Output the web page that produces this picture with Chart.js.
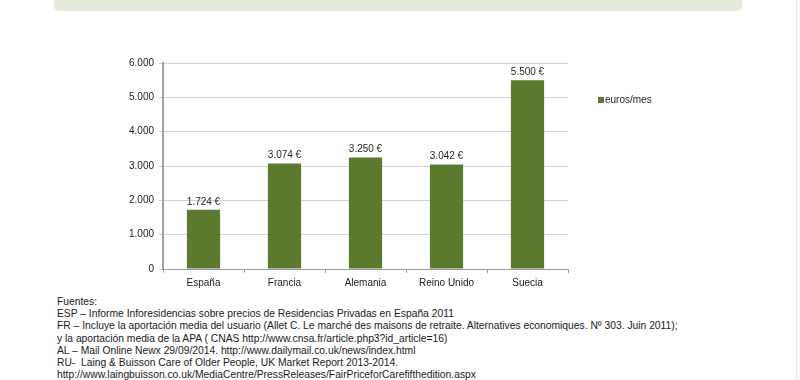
<!DOCTYPE html>
<html>
<head>
<meta charset="utf-8">
<script src="https://cdn.jsdelivr.net/npm/chart.js@4/dist/chart.umd.min.js"></script>
<style>
  html, body { margin: 0; padding: 0; background: #fff; width: 800px; height: 380px; overflow: hidden; }
  body { position: relative; font-family: "Liberation Sans", Arial, Helvetica, sans-serif; }
  #banner { position: absolute; left: 54px; top: -8px; width: 688px; height: 19px; background: #e4eadb; border-radius: 5px; }
  #pageEdge { position: absolute; left: 796px; top: 0; width: 1px; height: 380px; background: #e6e6e6; }
  #wrap { position: absolute; left: 0; top: 0; width: 800px; height: 295px; }
  #footer { position: absolute; left: 57px; top: 296px; font-size: 10.3px; line-height: 12.2px; color: #1a1a1a; white-space: nowrap; }
</style>
</head>
<body>
<div id="banner"></div>
<div id="pageEdge"></div>
<div id="wrap"><canvas id="c"></canvas></div>
<div id="footer"></div>
<script>
const categories = ["España", "Francia", "Alemania", "Reino Unido", "Suecia"];
const values = [1724, 3074, 3250, 3042, 5500];
const seriesName = "euros/mes";
const yTicks = [0, 1000, 2000, 3000, 4000, 5000, 6000];
const footerLines = [
  "Fuentes:",
  "ESP \u2013 Informe Inforesidencias sobre precios de Residencias Privadas en España 2011",
  "FR \u2013 Incluye la aportación media del usuario (Allet C. Le marché des maisons de retraite. Alternatives economiques. Nº 303. Juin 2011);",
  "y la aportación media de la APA ( CNAS http://www.cnsa.fr/article.php3?id_article=16)",
  "AL \u2013 Mail Online Newx 29/09/2014. http://www.dailymail.co.uk/news/index.html",
  "RU-  Laing & Buisson Care of Older People, UK Market Report 2013-2014.",
  "http://www.laingbuisson.co.uk/MediaCentre/PressReleases/FairPriceforCarefifthedition.aspx"
];

const footer = document.getElementById('footer');
footerLines.forEach(t => { const d = document.createElement('div'); d.textContent = t; d.style.whiteSpace = 'pre'; footer.appendChild(d); });

function fmt(v) { return v.toLocaleString('de-DE'); }

const FONT = "'Liberation Sans', Arial, Helvetica, sans-serif";
const BAR = '#5b7a2d';

const valueLabels = {
  id: 'valueLabels',
  afterDatasetsDraw(chart) {
    const ctx = chart.ctx;
    const meta = chart.getDatasetMeta(0);
    ctx.save();
    ctx.font = "10px " + FONT;
    ctx.fillStyle = '#262626';
    ctx.textAlign = 'center';
    ctx.textBaseline = 'bottom';
    meta.data.forEach((el, i) => {
      ctx.fillText(fmt(chart.data.datasets[0].data[i]) + ' \u20ac', el.x, el.y - 3);
    });
    ctx.restore();
  }
};

const sideLegend = {
  id: 'sideLegend',
  afterDraw(chart) {
    const ctx = chart.ctx;
    const a = chart.chartArea;
    const x = a.right + 30, y = 100;
    ctx.save();
    ctx.fillStyle = chart.data.datasets[0].backgroundColor;
    ctx.fillRect(x, y - 3, 6, 6);
    ctx.font = "10px " + FONT;
    ctx.fillStyle = '#262626';
    ctx.textAlign = 'left';
    ctx.textBaseline = 'middle';
    ctx.fillText(chart.data.datasets[0].label, x + 7, y + 0.5);
    ctx.restore();
  }
};

new Chart(document.getElementById('c'), {
  type: 'bar',
  data: {
    labels: categories,
    datasets: [{
      label: seriesName,
      data: values,
      backgroundColor: BAR,
      borderWidth: 0,
      categoryPercentage: 1.0,
      barPercentage: 0.41
    }]
  },
  options: {
    responsive: true,
    maintainAspectRatio: false,
    animation: false,
    layout: { padding: { left: 0, right: 232, top: 63, bottom: 0 } },
    plugins: { legend: { display: false }, tooltip: { enabled: false } },
    scales: {
      x: {
        afterFit: s => { s.height = 295 - 269; },
        grid: { display: true, drawOnChartArea: false, drawTicks: true, tickLength: 4, color: '#9a9a9a', offset: true },
        border: { display: true, color: '#9a9a9a', width: 1 },
        ticks: { color: '#1a1a1a', font: { family: FONT, size: 10 }, padding: 4, maxRotation: 0 }
      },
      y: {
        min: 0, max: 6000,
        afterFit: s => { s.width = 163; },
        afterBuildTicks: s => { s.ticks = yTicks.map(v => ({ value: v })); },
        grid: { color: '#d3d3d3', lineWidth: 1, tickLength: 4, drawTicks: true },
        border: { display: true, color: '#a0a0a0', width: 2 },
        ticks: { color: '#1a1a1a', font: { family: FONT, size: 10 }, padding: 5, callback: v => fmt(v) }
      }
    }
  },
  plugins: [valueLabels, sideLegend]
});
</script>
</body>
</html>
